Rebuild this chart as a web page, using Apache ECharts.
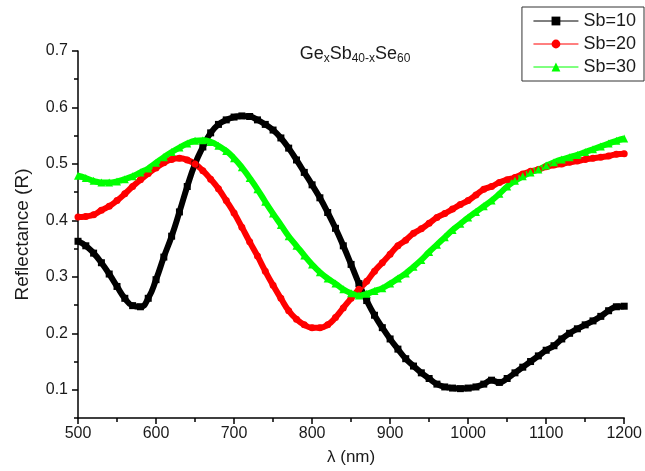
<!DOCTYPE html>
<html>
<head>
<meta charset="utf-8">
<script src="https://cdn.jsdelivr.net/npm/echarts@6/dist/echarts.min.js"></script>
<style>html,body{margin:0;padding:0;background:#fff}#c{width:645px;height:471px}</style>
</head>
<body>
<div id="c"></div>
<script>
const wavelengths = [500,510,520,530,540,550,560,570,580,590,600,610,620,630,640,650,660,670,680,690,700,710,720,730,740,750,760,770,780,790,800,810,820,830,840,850,860,870,880,890,900,910,920,930,940,950,960,970,980,990,1000,1010,1020,1030,1040,1050,1060,1070,1080,1090,1100,1110,1120,1130,1140,1150,1160,1170,1180,1190,1200];
const sb10 = [0.363,0.355,0.342,0.325,0.305,0.283,0.262,0.249,0.247,0.262,0.295,0.335,0.372,0.415,0.46,0.50,0.53,0.555,0.57,0.578,0.583,0.585,0.584,0.578,0.57,0.56,0.546,0.528,0.507,0.485,0.463,0.44,0.414,0.386,0.355,0.322,0.288,0.258,0.232,0.21,0.19,0.172,0.155,0.142,0.13,0.12,0.11,0.105,0.103,0.102,0.103,0.105,0.11,0.117,0.113,0.12,0.13,0.14,0.15,0.16,0.17,0.178,0.19,0.2,0.208,0.215,0.222,0.23,0.24,0.247,0.248];
const sb20 = [0.406,0.407,0.41,0.418,0.425,0.435,0.447,0.46,0.472,0.483,0.493,0.502,0.508,0.51,0.507,0.5,0.488,0.473,0.456,0.435,0.413,0.388,0.362,0.337,0.31,0.285,0.262,0.24,0.225,0.215,0.21,0.21,0.215,0.228,0.245,0.262,0.278,0.292,0.31,0.325,0.34,0.355,0.365,0.377,0.385,0.395,0.405,0.412,0.42,0.428,0.435,0.445,0.455,0.46,0.467,0.472,0.476,0.482,0.487,0.49,0.495,0.498,0.5,0.503,0.505,0.508,0.51,0.512,0.514,0.517,0.518];
const sb30 = [0.479,0.475,0.47,0.467,0.467,0.469,0.473,0.478,0.485,0.492,0.502,0.512,0.521,0.529,0.536,0.541,0.542,0.539,0.532,0.523,0.51,0.494,0.475,0.455,0.433,0.412,0.392,0.372,0.355,0.338,0.322,0.308,0.297,0.288,0.278,0.271,0.267,0.27,0.275,0.28,0.288,0.297,0.306,0.318,0.33,0.344,0.357,0.37,0.383,0.394,0.405,0.415,0.425,0.435,0.447,0.46,0.47,0.478,0.485,0.49,0.497,0.503,0.508,0.512,0.516,0.521,0.526,0.531,0.536,0.541,0.545];
const seriesNames = ['Sb=10','Sb=20','Sb=30'];
const yMajor = [0.1,0.2,0.3,0.4,0.5,0.6,0.7];
const yMinor = [0.05,0.15,0.25,0.35,0.45,0.55,0.65];

const font = 'Liberation Sans, Arial, sans-serif';
const txt = '#1a1a1a';
const pair = arr => wavelengths.map((w,i)=>[w,arr[i]]);

const chart = echarts.init(document.getElementById('c'));
const mk = (name, data, color, symbol, size) => ({
  name, type:'line', data: pair(data), symbol, symbolSize:size, showSymbol:true,
  smooth:true, lineStyle:{color, width:6}, itemStyle:{color}, z:3, animation:false
});
chart.setOption({
  animation:false,
  title:{
    text:'Ge{s|x}Sb{s|40-x}Se{s|60}', left:350, top:38, textAlign:'center',
    textStyle:{fontFamily:font, fontSize:18, fontWeight:'normal', color:txt,
      rich:{s:{fontFamily:font, fontSize:12, color:txt, verticalAlign:'bottom', padding:[10,0,0,0]}}}
  },
  legend:{
    right:1, top:7, orient:'vertical', backgroundColor:'#fff',
    borderColor:'#333', borderWidth:1, padding:[5,8,5,11],
    itemWidth:45, itemHeight:11, itemGap:5,
    lineStyle:{width:1},
    textStyle:{fontFamily:font, fontSize:18, lineHeight:18, color:txt},
    data:seriesNames
  },
  grid:{left:78, right:16, top:51, bottom:46},
  xAxis:{
    type:'value', min:500, max:1200, interval:100,
    name:'λ (nm)', nameLocation:'middle', nameGap:31,
    nameTextStyle:{fontFamily:font, fontSize:17, color:txt},
    axisLine:{lineStyle:{color:'#000', width:1.5}},
    axisTick:{length:6, lineStyle:{color:'#000', width:1.5}},
    minorTick:{show:true, splitNumber:2, length:4, lineStyle:{color:'#000', width:1.5}},
    axisLabel:{fontFamily:font, fontSize:16, color:txt, margin:8, formatter:v=>String(v)},
    splitLine:{show:false}
  },
  yAxis:[{
    type:'value', min:0.05, max:0.7,
    name:'Reflectance (R)', nameLocation:'middle', nameGap:46,
    nameTextStyle:{fontFamily:font, fontSize:19, color:txt},
    axisLine:{onZero:false, lineStyle:{color:'#000', width:1.5}},
    axisTick:{length:6, customValues:yMajor, lineStyle:{color:'#000', width:1.5}},
    axisLabel:{fontFamily:font, fontSize:16, color:txt, margin:10, customValues:yMajor,
      formatter:v=>(Math.round(v*10)/10).toFixed(1)},
    splitLine:{show:false}
  },{
    type:'value', min:0.05, max:0.7, position:'left',
    axisLine:{show:false},
    axisTick:{show:true, length:4, customValues:yMinor, lineStyle:{color:'#000', width:1.5}},
    axisLabel:{show:false},
    splitLine:{show:false}
  }],
  series:[
    mk('Sb=10', sb10, '#000000', 'rect', 7),
    mk('Sb=20', sb20, '#ff0000', 'circle', 7),
    mk('Sb=30', sb30, '#00ff00', 'triangle', 8)
  ]
});
</script>
</body>
</html>
